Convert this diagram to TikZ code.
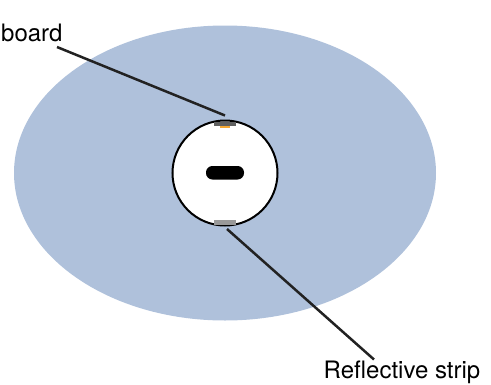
\documentclass[tikz,border=0pt]{standalone}
\usepackage{fontspec}
\setmainfont{TeX Gyre Heros}
\definecolor{field}{HTML}{AFC1DB}
\definecolor{linecol}{HTML}{222222}
\definecolor{topstrip}{HTML}{5F5F5F}
\definecolor{botstrip}{HTML}{999999}
\definecolor{led}{HTML}{F5A833}
\tikzset{
  lbl/.style={inner sep=0pt,anchor=base west,font=\fontsize{24}{24}\selectfont,text=black},
  leader/.style={draw=linecol,line width=2.5pt},
}
\begin{document}
\begin{tikzpicture}[x=1pt,y=-1pt]
\useasboundingbox (0,0) rectangle (491,384);
\fill[field] (225,173) ellipse [x radius=211,y radius=147.5];
\node[circle,draw=black,fill=white,line width=2pt,minimum size=105pt,inner sep=0pt] (robot) at (225,173) {};
\fill[black,rounded corners=6.4pt] (206,166) rectangle (244,179.5);
\fill[topstrip] (214,122) rectangle (236,126);
\fill[led] (220,125.5) rectangle (230,128);
\fill[botstrip] (214,220) rectangle (236,224.5);
\node[lbl] (board) at (1,41) {board};
\node[lbl] (strip) at (323.5,378.8) {Reflective strip};
\coordinate (a1) at (57,47);
\coordinate (a2) at (225,115.5);
\coordinate (b1) at (227,229);
\coordinate (b2) at (374,359.5);
\draw[leader] (a1) -- (a2);
\draw[leader] (b1) -- (b2);
\end{tikzpicture}
\end{document}
